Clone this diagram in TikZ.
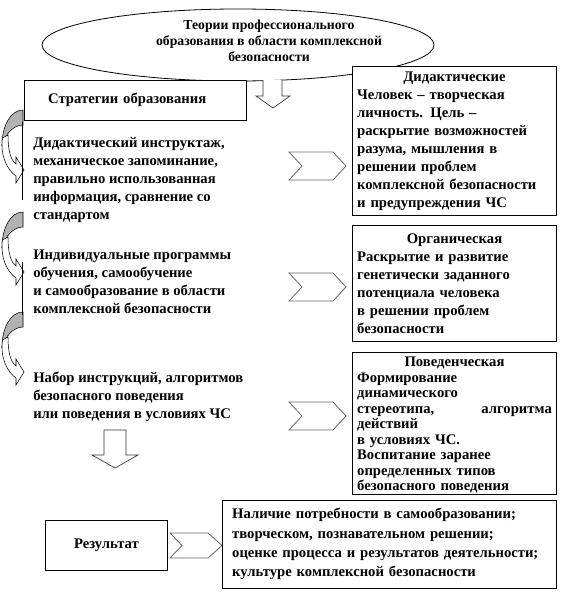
\documentclass[tikz,border=0pt]{standalone}
\usepackage{fontspec}
\setmainfont{Liberation Serif}
\usepackage{tikz}
\usetikzlibrary{shapes.geometric}

\begin{document}
\begin{tikzpicture}[x=0.75pt,y=-0.75pt,
        box/.style={draw,line width=0.6pt,fill=white,font=\bfseries\fontsize{11}{13.5}\selectfont},
        txt/.style={anchor=north west,inner sep=0pt,align=left,font=\bfseries\fontsize{11}{13.5}\selectfont},
        chevr/.style={draw=black!60,line width=0.6pt,fill=white},
        blockarr/.style={draw=black!80,line width=0.5pt,fill=white},
        backside/.style={draw,line width=0.4pt,fill=black!30},
        frontside/.style={draw,line width=0.4pt,fill=white}]

  \useasboundingbox (0,0) rectangle (568,596);

  \node[draw,ellipse,line width=0.6pt,fill=white,inner sep=0pt,minimum width=294pt,minimum height=54pt] (theory) at (238,45) {};
  \node[align=center,font=\bfseries\fontsize{10.3}{12}\selectfont] (theorytxt) at (269,41)
    {Теории профессионального\\образования в области комплексной\\безопасности};

  \node[box,align=left,text width=131pt,inner xsep=18pt,minimum height=30pt] (strat) at (135.5,100) {Стратегии образования};
  \draw[blockarr] (263,80) -- (263,96) -- (256,96) -- (273,108) -- (290,96) -- (282,96) -- (282,80);

  % right column
  \node[box,text width=146pt,inner sep=3.75pt,minimum height=111pt] (didact) at (454.5,141)
    {{\centering Дидактические\par}\raggedright Человек – творческая\\ личность. Цель –\\ раскрытие возможностей\\
     разума, мышления в\\ решении проблем\\ комплексной безопасности\\ и предупреждения ЧС};
  \node[box,text width=146pt,inner sep=3.75pt,minimum height=87pt] (organic) at (454.5,283.5)
    {{\centering Органическая\par}\raggedright Раскрытие и развитие\\ генетически заданного\\ потенциала человека\\
     в решении проблем\\ безопасности};
  \node[box,minimum width=153.5pt,minimum height=106.5pt] (behav) at (454.5,423) {};
  \node[anchor=north,text width=146pt,inner sep=0pt,font=\bfseries\fontsize{11}{11.6}\selectfont] (behavtxt) at (454.5,357)
    {{\centering Поведенческая\par}\raggedright Формирование\\ динамического\\ стереотипа,\hfill алгоритма\\ действий\\
     в условиях ЧС.\\ Воспитание заранее\\ определенных типов\\ безопасного поведения};

  \foreach \yc in {166,287,416}
    \draw[chevr] (289,\yc-14) -- (333,\yc-14) -- (346,\yc) -- (333,\yc+14) -- (289,\yc+14) -- (302,\yc) -- cycle;

  % left column
  \foreach \yt in {110,212,312} {
    \begin{scope}[shift={(23,\yt)}]
      \draw[backside] (0,0) .. controls (-13,0) and (-21,17) .. (-21,35) .. controls (-18,25) and (-10,15) .. (0,15) -- cycle;
      \draw[frontside] (-20.5,28) .. controls (-23,45) and (-16,60) .. (-7,66) -- (-7,73) -- (1,60) -- (-7,47) -- (-7,54)
        .. controls (-12,50) and (-15,42) .. (-15,25) -- cycle;
    \end{scope}
  }
  \draw (22,122) -- (22,200);
  \draw (22,262) -- (22,315);

  \node[txt] (instr) at (33,137) {Дидактический инструктаж,\\ механическое  запоминание,\\ правильно использованная\\
    информация, сравнение со\\ стандартом};
  \node[txt] (indiv) at (33,250) {Индивидуальные программы\\ обучения, самообучение\\ и самообразование в области\\
    комплексной безопасности};
  \node[txt] (algo) at (33,372) {Набор инструкций, алгоритмов\\ безопасного поведения\\ или поведения в условиях ЧС};

  \draw[blockarr] (104,430) -- (104,455) -- (92,455) -- (115,468) -- (138,455) -- (126,455) -- (126,430) -- cycle;

  % result
  \node[box,minimum width=92pt,minimum height=37.5pt] (result) at (106.5,545) {Результат};
  \draw[chevr] (170,533) -- (208,533) -- (222,545.5) -- (208,558) -- (170,558) -- (182,545.5) -- cycle;
  \node[box,text width=236pt,inner xsep=7.5pt,minimum height=66pt,font=\bfseries\fontsize{11}{14.5}\selectfont] (outcome) at (389.5,544)
    {Наличие потребности в самообразовании;\\ творческом, познавательном решении;\\
     оценке процесса и результатов  деятельности;\\ культуре  комплексной безопасности};

\end{tikzpicture}
\end{document}
